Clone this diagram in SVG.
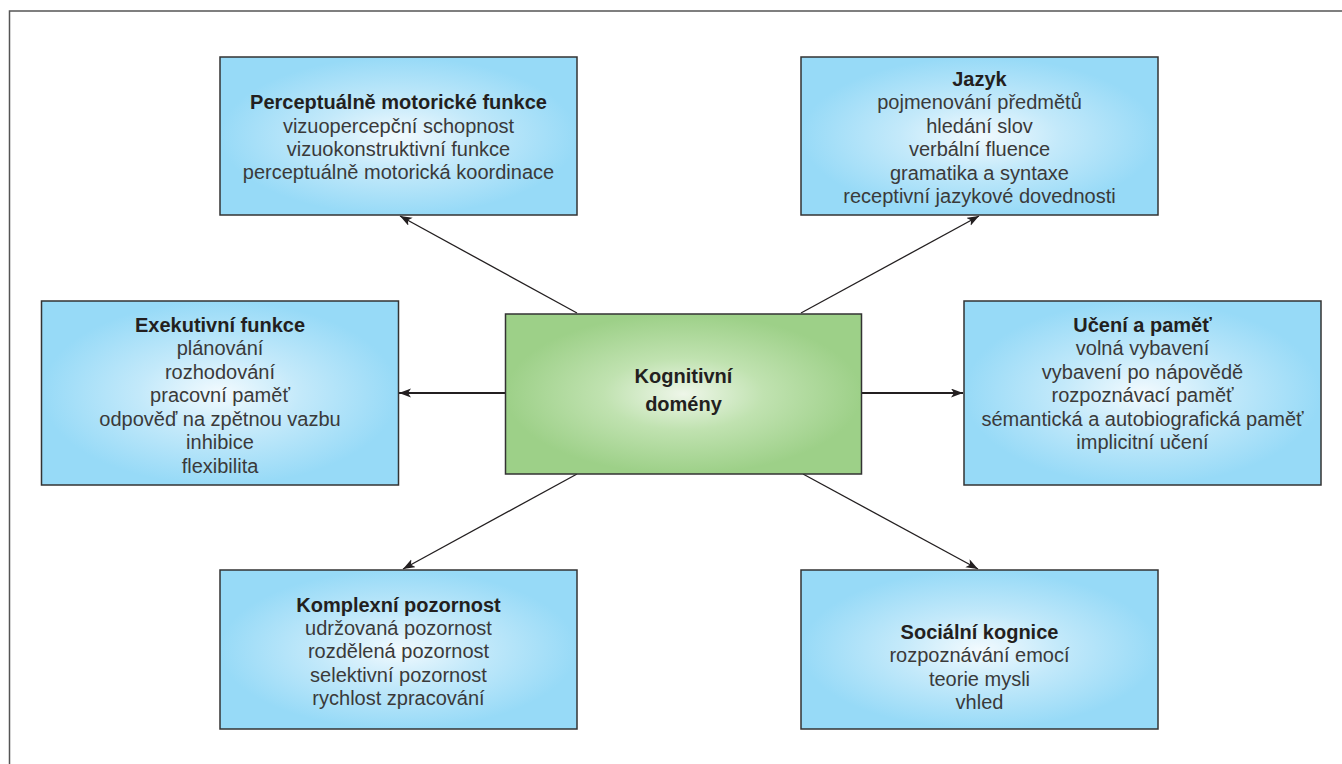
<svg xmlns="http://www.w3.org/2000/svg" width="1342" height="764" viewBox="0 0 1342 764">
<style>
.box{stroke:#333;stroke-width:1.5}
.blue{fill:url(#gBlue)}
.green{fill:url(#gGreen)}
text{font-family:"Liberation Sans",Arial,sans-serif;font-size:20px;text-anchor:middle}
.t{font-weight:bold;fill:#231f20}
.i{fill:#3a3a3a}
.c{stroke:#231f20;stroke-width:1.3;fill:none;marker-end:url(#ah)}
.h{stroke-width:2}
</style>
<defs>
<radialGradient id="gBlue" cx="0.5" cy="0.5" r="0.5">
<stop offset="0" stop-color="#f2fafe"/>
<stop offset="0.45" stop-color="#c3e9fa"/>
<stop offset="1" stop-color="#97daf7"/>
</radialGradient>
<radialGradient id="gGreen" cx="0.5" cy="0.5" r="0.5">
<stop offset="0" stop-color="#eef6e9"/>
<stop offset="0.45" stop-color="#c0e2b0"/>
<stop offset="1" stop-color="#9dd088"/>
</radialGradient>
<marker id="ah" markerUnits="userSpaceOnUse" markerWidth="13" markerHeight="10" refX="12" refY="4.5" orient="auto">
<path d="M0,0 L12,4.5 L0,9 L3,4.5 Z" fill="#231f20"/>
</marker>
</defs>
<rect width="1342" height="764" fill="#fff"/>
<path d="M9.5,764 V11 H1342" fill="none" stroke="#555" stroke-width="1.5"/>
<g id="connectors">
<line class="c" x1="577" y1="313" x2="400" y2="216"/>
<line class="c" x1="801" y1="313" x2="979" y2="216"/>
<line class="c" x1="577" y1="474" x2="403" y2="569"/>
<line class="c" x1="803" y1="474" x2="978" y2="569"/>
<line class="c h" x1="505" y1="393" x2="399" y2="393"/>
<line class="c h" x1="862" y1="393" x2="963" y2="393"/>
</g>
<g id="perceptual">
<rect class="box blue" x="220" y="57" width="357" height="158"/>
<text class="t" x="398.5" y="109.3">Perceptuálně motorické funkce</text>
<text class="i" x="398.5" y="132.7">vizuopercepční schopnost</text>
<text class="i" x="398.5" y="156">vizuokonstruktivní funkce</text>
<text class="i" x="398.5" y="179.3">perceptuálně motorická koordinace</text>
</g>
<g id="jazyk">
<rect class="box blue" x="801" y="57" width="357" height="158"/>
<text class="t" x="979.5" y="86">Jazyk</text>
<text class="i" x="979.5" y="109.4">pojmenování předmětů</text>
<text class="i" x="979.5" y="132.8">hledání slov</text>
<text class="i" x="979.5" y="156.2">verbální fluence</text>
<text class="i" x="979.5" y="179.6">gramatika a syntaxe</text>
<text class="i" x="979.5" y="203">receptivní jazykové dovednosti</text>
</g>
<g id="exekutivni">
<rect class="box blue" x="41.5" y="301" width="357" height="184"/>
<text class="t" x="220" y="331.7">Exekutivní funkce</text>
<text class="i" x="220" y="355.2">plánování</text>
<text class="i" x="220" y="378.7">rozhodování</text>
<text class="i" x="220" y="402.2">pracovní paměť</text>
<text class="i" x="220" y="425.7">odpověď na zpětnou vazbu</text>
<text class="i" x="220" y="449.2">inhibice</text>
<text class="i" x="220" y="472.7">flexibilita</text>
</g>
<g id="center">
<rect class="box green" x="505.5" y="314" width="356" height="160"/>
<text class="t" x="683.5" y="383.3">Kognitivní</text>
<text class="t" x="683.5" y="410.5">domény</text>
</g>
<g id="uceni">
<rect class="box blue" x="964" y="301" width="357" height="184"/>
<text class="t" x="1142.5" y="332">Učení a paměť</text>
<text class="i" x="1142.5" y="355.4">volná vybavení</text>
<text class="i" x="1142.5" y="378.8">vybavení po nápovědě</text>
<text class="i" x="1142.5" y="402.2">rozpoznávací paměť</text>
<text class="i" x="1142.5" y="425.6">sémantická a autobiografická paměť</text>
<text class="i" x="1142.5" y="449">implicitní učení</text>
</g>
<g id="komplexni">
<rect class="box blue" x="220" y="570" width="357" height="159"/>
<text class="t" x="398.5" y="611.5">Komplexní pozornost</text>
<text class="i" x="398.5" y="635">udržovaná pozornost</text>
<text class="i" x="398.5" y="658.4">rozdělená pozornost</text>
<text class="i" x="398.5" y="681.8">selektivní pozornost</text>
<text class="i" x="398.5" y="705.2">rychlost zpracování</text>
</g>
<g id="socialni">
<rect class="box blue" x="801" y="570" width="357" height="159"/>
<text class="t" x="979.5" y="639">Sociální kognice</text>
<text class="i" x="979.5" y="662.4">rozpoznávání emocí</text>
<text class="i" x="979.5" y="685.8">teorie mysli</text>
<text class="i" x="979.5" y="709.2">vhled</text>
</g>
</svg>
